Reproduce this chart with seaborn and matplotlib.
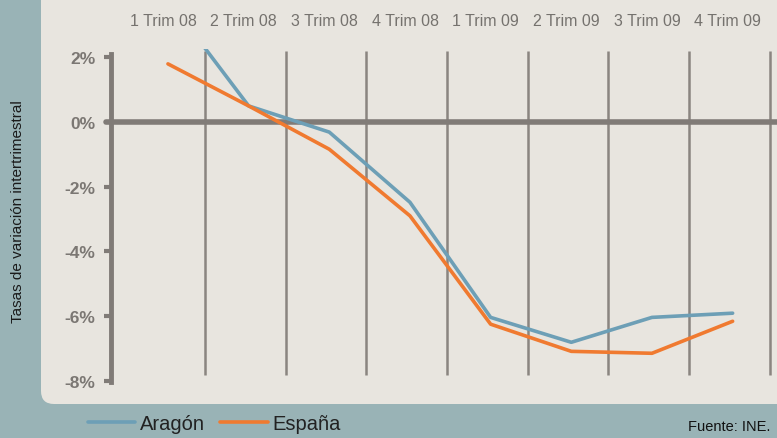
import numpy as np
import pandas as pd
import matplotlib
matplotlib.use("Agg")
import matplotlib.pyplot as plt
from matplotlib.patches import FancyBboxPatch
from matplotlib.lines import Line2D
import seaborn as sns

# datos
trimestres = ["1 Trim 08", "2 Trim 08", "3 Trim 08", "4 Trim 08",
              "1 Trim 09", "2 Trim 09", "3 Trim 09", "4 Trim 09"]
aragon = [3.8, 0.5, -0.31, -2.48, -6.04, -6.81, -6.04, -5.91]
espana = [1.8, 0.5, -0.84, -2.9, -6.25, -7.09, -7.15, -6.16]
yticks = [2, 0, -2, -4, -6, -8]

df = pd.DataFrame({
    "pos": list(range(len(trimestres))) * 2,
    "valor": aragon + espana,
    "serie": ["Aragón"] * len(aragon) + ["España"] * len(espana),
})

sns.set_style("white")
plt.rcParams["font.family"] = ["Liberation Sans", "DejaVu Sans"]

teal = "#99b3b6"
beige = "#e8e5df"
gris = "#807b77"
colores = {"Aragón": "#6d9fb6", "España": "#f07a30"}

fig = plt.figure(figsize=(7.77, 4.39), dpi=100)
fig.patch.set_facecolor(teal)

# panel claro con esquina redondeada
panel = FancyBboxPatch((0.41, 0.34), 8.0, 5.0,
                       boxstyle="round,pad=0,rounding_size=0.13",
                       transform=fig.dpi_scale_trans,
                       facecolor=beige, edgecolor="none", zorder=-5)
fig.patches.append(panel)

ax = fig.add_axes([111 / 777, 54 / 439, 666 / 777, 335 / 439])
ax.set_zorder(2)
ax.set_facecolor("none")

sns.lineplot(data=df, x="pos", y="valor", hue="serie", palette=colores,
             linewidth=2.6, ax=ax, legend=False, zorder=5)

ax.set_xlim(-0.706, 7.55)
ax.set_ylim(-8.1, 2.26)

# lineas verticales entre trimestres
for i in range(len(trimestres)):
    ax.vlines(i + 0.46, -7.83, 2.2, color="#8a8580", linewidth=1.8, zorder=2)

ax.axhline(0, xmin=-0.008, xmax=1, color=gris, linewidth=4, zorder=3, clip_on=False)

for s in ["top", "right", "bottom"]:
    ax.spines[s].set_visible(False)
ax.spines["left"].set_color(gris)
ax.spines["left"].set_linewidth(3.5)
ax.spines["left"].set_bounds(-8.05, 2.1)

ax.set_yticks(yticks)
ax.set_yticklabels([f"{v}%" for v in yticks])
ax.tick_params(axis="y", length=5, width=3, color=gris, labelcolor="#7b7773",
               labelsize=12.5, pad=6, left=True)
for lab in ax.get_yticklabels():
    lab.set_fontweight("bold")

# etiquetas arriba, un poco a la izquierda del punto
ax.set_xticks(np.arange(len(trimestres)) - 0.06)
ax.set_xticklabels(trimestres)
ax.xaxis.tick_top()
ax.tick_params(axis="x", length=0, labelcolor="#75726e", labelsize=11.5, pad=15)
ax.set_xlabel("")
ax.set_ylabel("")

fig.text(18 / 777, 1 - 212 / 439, "Tasas de variación intertrimestral",
         rotation=90, ha="center", va="center", fontsize=11, color="#1a1a1a")

handles = [Line2D([], [], color=colores[k], linewidth=2.6) for k in colores]
fig.legend(handles, list(colores), loc="center left",
           bbox_to_anchor=(88 / 777, 1 - 425 / 439), ncol=2, frameon=False,
           fontsize=14.5, handlelength=2.35, columnspacing=0.75,
           handletextpad=0.25, borderpad=0, borderaxespad=0,
           labelcolor="#222222")

fig.text(770 / 777, 1 - 427 / 439, "Fuente: INE.", ha="right", va="center",
         fontsize=10.5, color="#111111")

fig.savefig("out.png", dpi=100, facecolor=fig.get_facecolor())
